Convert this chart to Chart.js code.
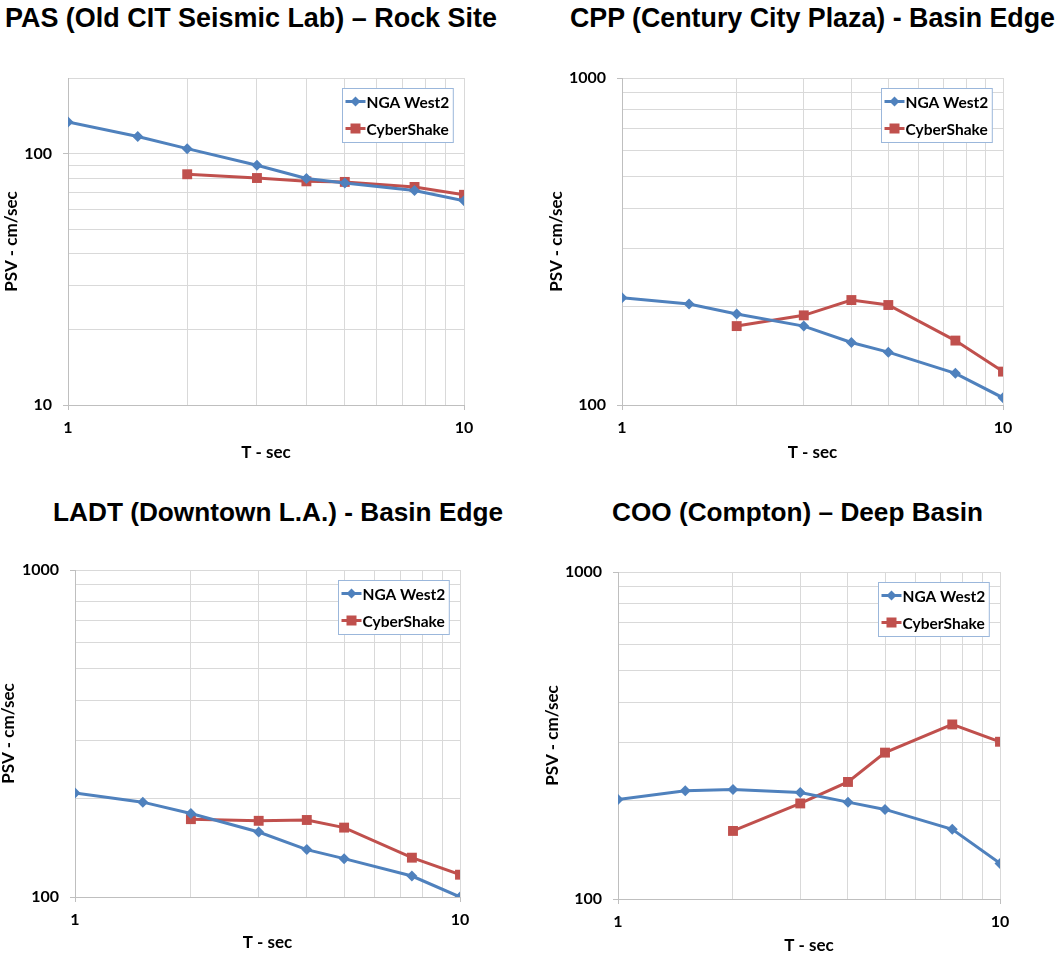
<!DOCTYPE html>
<html>
<head>
<meta charset="utf-8">
<script src="https://cdn.jsdelivr.net/npm/chart.js@4.4.1/dist/chart.umd.min.js"></script>
<style>
  html, body { margin: 0; padding: 0; background: #ffffff; }
  body { width: 1058px; height: 957px; position: relative; overflow: hidden; }
  canvas { position: absolute; }
  .ttl { position: absolute; white-space: nowrap; font-family: "Liberation Sans", Arial, sans-serif; font-weight: bold; color: #000; line-height: 1; transform-origin: 0 0; }
</style>
</head>
<body>
<script>
// ---------------- data ----------------
const periods = [1, 1.5, 2, 3, 4, 5, 7.5, 10];
const csPeriods = [2, 3, 4, 5, 7.5, 10];

const pasNGA  = [133.6, 117, 104.7, 89.9, 79.6, 76.5, 71.4, 64.9];
const pasCS   = [82.8, 80, 77.6, 77.2, 73.7, 68.6];
const cppNGA  = [212.7, 203.6, 189.8, 174.3, 155.3, 145.1, 125, 105.2];
const cppCS   = [174.3, 188, 209.4, 202.2, 157.4, 126.5];
const ladtNGA = [208, 195, 180, 158, 139.6, 131, 115.9, 100];
const ladtCS  = [173, 171, 172, 163, 131.9, 117];
const cooNGA  = [201.6, 214.3, 216.3, 211.8, 197.8, 187.9, 163.3, 128.5];
const cooCS   = [161.5, 196, 228, 280.3, 341.8, 302.6];

const xTicks = [1, 2, 3, 4, 5, 6, 7, 8, 9, 10];
const yTicksRock = [10, 20, 30, 40, 50, 60, 70, 80, 90, 100, 200];
const yTicksBasin = [100, 200, 300, 400, 500, 600, 700, 800, 900, 1000];
const majorTicks = [1, 10, 100, 1000];

const titles = [
  "PAS (Old CIT Seismic Lab) \u2013 Rock Site",
  "CPP (Century City Plaza) - Basin Edge",
  "LADT (Downtown L.A.) - Basin Edge",
  "COO (Compton) \u2013 Deep Basin"
];
const seriesNames = ["NGA West2", "CyberShake"];
const xTitle = "T - sec";
const yTitle = "PSV - cm/sec";

// ---------------- layout / style ----------------
const BLUE = "#4f81bd", RED = "#c0504d";
const FONT = "Lato, 'Open Sans', sans-serif";

const panels = [
  { nga: pasNGA,  cs: pasCS,  yTicks: yTicksRock,  title: titles[0],
    canvas: {left: 0, top: 40, width: 529, height: 440}, plot: {x0: 68, x1: 464, y0: 78, y1: 405},
    yTitleX: 12, xTitleY: 453, ttl: {left: 5, top: 4, width: 492, size: 28} },
  { nga: cppNGA,  cs: cppCS,  yTicks: yTicksBasin, title: titles[1],
    canvas: {left: 529, top: 40, width: 529, height: 440}, plot: {x0: 622, x1: 1003, y0: 78, y1: 405},
    yTitleX: 557, xTitleY: 453, ttl: {left: 570, top: 4, width: 485, size: 28} },
  { nga: ladtNGA, cs: ladtCS, yTicks: yTicksBasin, title: titles[2],
    canvas: {left: 0, top: 530, width: 529, height: 427}, plot: {x0: 75, x1: 460, y0: 570, y1: 897},
    yTitleX: 8, xTitleY: 943, ttl: {left: 53, top: 499, width: 450, size: 26} },
  { nga: cooNGA,  cs: cooCS,  yTicks: yTicksBasin, title: titles[3],
    canvas: {left: 529, top: 530, width: 529, height: 427}, plot: {x0: 618, x1: 1000, y0: 572, y1: 899},
    yTitleX: 553, xTitleY: 946, ttl: {left: 612, top: 499, width: 371, size: 26} }
];

// legend drawn inside plot area (Excel style)
const insideLegend = {
  id: 'insideLegend',
  afterDraw(chart) {
    const ctx = chart.ctx, area = chart.chartArea;
    ctx.save();
    ctx.font = "bold 15.5px " + FONT;
    const names = chart.data.datasets.map(d => d.label);
    const tw = Math.max(...names.map(n => ctx.measureText(n).width));
    const w = 3 + 20 + 1 + tw + 4, h = 54;
    const bx = Math.round(area.right - 11 - w) + 0.5, by = Math.round(area.top + 10) + 0.5;
    ctx.fillStyle = "#ffffff";
    ctx.fillRect(bx, by, w, h);
    ctx.strokeStyle = "#9bb7db";
    ctx.lineWidth = 1;
    ctx.strokeRect(bx, by, w, h);
    chart.data.datasets.forEach((ds, i) => {
      const cy = by + 13 + i * 27;
      const lx = bx + 3;
      ctx.strokeStyle = ds.borderColor;
      ctx.lineWidth = 3;
      ctx.beginPath(); ctx.moveTo(lx, cy); ctx.lineTo(lx + 20, cy); ctx.stroke();
      ctx.fillStyle = ds.pointBackgroundColor;
      if (ds.pointStyle === 'rectRot') {
        ctx.beginPath();
        ctx.moveTo(lx + 10, cy - 5); ctx.lineTo(lx + 15, cy); ctx.lineTo(lx + 10, cy + 5); ctx.lineTo(lx + 5, cy);
        ctx.closePath(); ctx.fill();
      } else {
        ctx.fillRect(lx + 5, cy - 5, 10, 10);
      }
      ctx.fillStyle = "#000000";
      ctx.textBaseline = "middle";
      ctx.textAlign = "left";
      ctx.fillText(ds.label, lx + 21, cy + 1);
    });
    ctx.restore();
  }
};

panels.forEach(p => {
  // title
  const t = document.createElement('div');
  t.className = 'ttl';
  t.textContent = p.title;
  t.style.left = p.ttl.left + 'px';
  t.style.top = p.ttl.top + 'px';
  t.style.fontSize = p.ttl.size + 'px';
  document.body.appendChild(t);
  const natural = t.getBoundingClientRect().width;
  t.style.transform = 'scaleX(' + (p.ttl.width / natural) + ')';

  // canvas
  const c = document.createElement('canvas');
  c.style.left = p.canvas.left + 'px';
  c.style.top = p.canvas.top + 'px';
  c.style.width = p.canvas.width + 'px';
  c.style.height = p.canvas.height + 'px';
  c.width = p.canvas.width; c.height = p.canvas.height;
  document.body.appendChild(c);

  const AT_HALF = 8.5; // axis title line height / 2
  const scaleLeft = p.yTitleX - AT_HALF;
  const padLeft = Math.max(0, scaleLeft - p.canvas.left);
  const yWidth = p.plot.x0 - (p.canvas.left + padLeft);
  const scaleBottom = p.xTitleY + AT_HALF;
  const padBottom = p.canvas.top + p.canvas.height - scaleBottom;
  const xHeight = scaleBottom - p.plot.y1;
  const padTop = p.plot.y0 - p.canvas.top;
  const padRight = p.canvas.left + p.canvas.width - p.plot.x1;

  const yT = p.yTicks;
  new Chart(c, {
    type: 'line',
    data: {
      datasets: [
        { label: seriesNames[0], data: periods.map((x, i) => ({x: x, y: p.nga[i]})),
          borderColor: BLUE, backgroundColor: BLUE, pointBackgroundColor: BLUE, pointBorderColor: BLUE,
          borderWidth: 3, pointStyle: 'rectRot', pointRadius: 5.5, pointBorderWidth: 0, tension: 0 },
        { label: seriesNames[1], data: csPeriods.map((x, i) => ({x: x, y: p.cs[i]})),
          borderColor: RED, backgroundColor: RED, pointBackgroundColor: RED, pointBorderColor: RED,
          borderWidth: 3, pointStyle: 'rect', pointRadius: 7, pointBorderWidth: 0, tension: 0 }
      ]
    },
    options: {
      responsive: false,
      animation: false,
      events: [],
      layout: { padding: { left: padLeft, right: padRight, top: padTop, bottom: padBottom } },
      plugins: { legend: { display: false }, title: { display: false }, tooltip: { enabled: false } },
      scales: {
        x: {
          type: 'logarithmic', min: xTicks[0], max: xTicks[xTicks.length - 1],
          afterBuildTicks: s => { s.ticks = xTicks.map(v => ({ value: v, major: majorTicks.includes(v) })); },
          afterFit: s => { s.height = xHeight; },
          ticks: { autoSkip: false, maxRotation: 0, padding: 8, color: '#000',
                   font: { family: FONT, size: 16, weight: 'bold' },
                   callback: v => majorTicks.includes(v) ? String(v) : '' },
          grid: { color: '#d9d9d9', lineWidth: 1, tickLength: 5,
                  tickColor: ctx => (ctx.tick && majorTicks.includes(ctx.tick.value)) ? '#bfbfbf' : 'rgba(0,0,0,0)' },
          border: { color: '#bfbfbf', width: 1 },
          title: { display: true, text: xTitle, color: '#000', padding: 0,
                   font: { family: FONT, size: 17, weight: 'bold', lineHeight: 1 } }
        },
        y: {
          type: 'logarithmic', min: yT[0], max: yT[yT.length - 1],
          afterBuildTicks: s => { s.ticks = yT.map(v => ({ value: v, major: majorTicks.includes(v) })); },
          afterFit: s => { s.width = yWidth; },
          ticks: { autoSkip: false, padding: 11, color: '#000',
                   font: { family: FONT, size: 16, weight: 'bold' },
                   callback: v => majorTicks.includes(v) ? String(v) : '' },
          grid: { color: '#d9d9d9', lineWidth: 1, tickLength: 5,
                  tickColor: ctx => (ctx.tick && majorTicks.includes(ctx.tick.value)) ? '#bfbfbf' : 'rgba(0,0,0,0)' },
          border: { color: '#bfbfbf', width: 1 },
          title: { display: true, text: yTitle, color: '#000', padding: 0,
                   font: { family: FONT, size: 17, weight: 'bold', lineHeight: 1 } }
        }
      }
    },
    plugins: [insideLegend]
  });
});
</script>
</body>
</html>
